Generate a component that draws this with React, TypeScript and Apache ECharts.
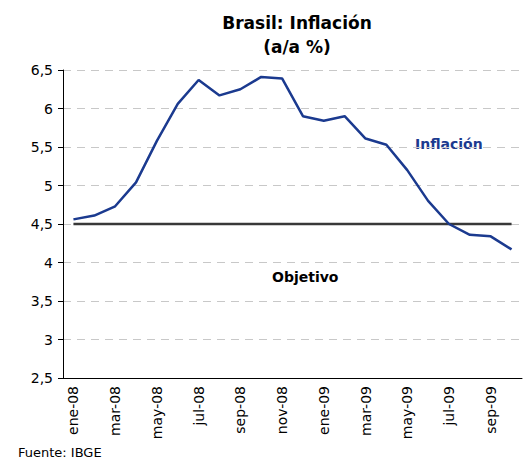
import React, { useEffect, useRef } from "react";
import * as echarts from "echarts";

const categories = [
  "ene-08", "feb-08", "mar-08", "abr-08", "may-08", "jun-08", "jul-08", "ago-08",
  "sep-08", "oct-08", "nov-08", "dic-08", "ene-09", "feb-09", "mar-09", "abr-09",
  "may-09", "jun-09", "jul-09", "ago-09", "sep-09", "oct-09",
];
const inflacion = [
  4.56, 4.61, 4.73, 5.04, 5.58, 6.06, 6.37, 6.17, 6.25, 6.41, 6.39, 5.9,
  5.84, 5.9, 5.61, 5.53, 5.2, 4.8, 4.5, 4.36, 4.34, 4.17,
];
const objetivo = categories.map(() => 4.5);

export default function App() {
  const ref = useRef<HTMLDivElement>(null);
  useEffect(() => {
    document.body.style.margin = "0";
    const chart = echarts.init(ref.current!, null, { renderer: "svg" });
    const font = "Tahoma, 'DejaVu Sans', Verdana, sans-serif";
    chart.setOption({
      animation: false,
      backgroundColor: "#ffffff",
      grid: { left: 63, right: 8, top: 70, bottom: 82 },
      xAxis: {
        type: "category",
        data: categories,
        boundaryGap: true,
        axisLine: { lineStyle: { color: "#000", width: 1 } },
        axisTick: { interval: 1, length: 5, lineStyle: { color: "#000" } },
        axisLabel: {
          interval: 1,
          rotate: 90,
          color: "#000",
          fontSize: 14,
          fontFamily: font,
          margin: 8,
        },
        splitLine: { show: false },
      },
      yAxis: {
        type: "value",
        min: 2.5,
        max: 6.5,
        interval: 0.5,
        axisLine: { show: true, lineStyle: { color: "#000", width: 1 } },
        axisTick: { show: true, length: 5, lineStyle: { color: "#000" } },
        axisLabel: {
          color: "#000",
          fontSize: 14,
          fontFamily: font,
          margin: 10,
          formatter: (v: number) => String(v).replace(".", ","),
        },
        splitLine: {
          show: true,
          lineStyle: { color: "#c8c8c8", type: [8, 6], width: 1 },
        },
      },
      series: [
        {
          name: "Objetivo",
          type: "line",
          data: objetivo,
          symbol: "none",
          lineStyle: { color: "#383838", width: 2.7 },
          z: 2,
        },
        {
          name: "Inflación",
          type: "line",
          data: inflacion,
          symbol: "none",
          lineStyle: { color: "#1B3A8F", width: 2.5 },
          z: 3,
        },
      ],
      graphic: [
        {
          type: "text",
          x: 297,
          y: 23,
          style: {
            text: "Brasil: Inflación",
            fill: "#000",
            font: `bold 17px ${font}`,
            textAlign: "center",
            textVerticalAlign: "middle",
          },
        },
        {
          type: "text",
          x: 297,
          y: 47,
          style: {
            text: "(a/a %)",
            fill: "#000",
            font: `bold 17px ${font}`,
            textAlign: "center",
            textVerticalAlign: "middle",
          },
        },
        {
          type: "text",
          left: 415,
          top: 137,
          style: {
            text: "Inflación",
            fill: "#1B3A8F",
            font: `bold 14px ${font}`,
          },
        },
        {
          type: "text",
          left: 272,
          top: 270,
          style: {
            text: "Objetivo",
            fill: "#000",
            font: `bold 14px ${font}`,
          },
        },
        {
          type: "text",
          left: 18,
          top: 446,
          style: {
            text: "Fuente: IBGE",
            fill: "#000",
            font: `13px ${font}`,
          },
        },
      ],
    });
    return () => chart.dispose();
  }, []);
  return <div ref={ref} style={{ width: 530, height: 460 }} />;
}
